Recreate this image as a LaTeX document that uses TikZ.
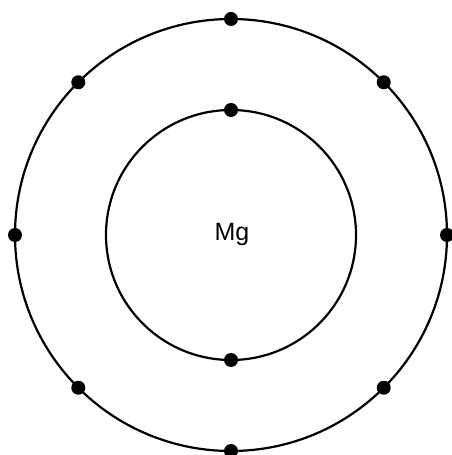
\documentclass[tikz,border=0pt]{standalone}
\usepackage{fontspec}
\setsansfont{Liberation Sans}
\usetikzlibrary{calc}
\tikzset{shell/.style={x=1pt,y=1pt,line width=2.2pt,font=\sffamily\fontsize{25}{30}\selectfont},
  electron/.style={circle,fill=black,inner sep=0pt,minimum size=14pt}}

\begin{document}
\begin{tikzpicture}[shell]
    \useasboundingbox (0,0) rectangle (451,455);
    \def\rin{125}% inner shell radius
    \def\rout{216}% outer shell radius
    \coordinate (c) at (231,220);
    \draw (c) circle (\rin);
    \draw (c) circle (\rout);
    \node (mg) at ($(c)+(1,1)$) {Mg};
    % inner shell: 2 electrons
    \foreach \a in {90,270} \node[electron] (in\a) at ($(c)+(\a:\rin)$) {};
    % outer shell: 8 electrons
    \foreach \a in {0,45,...,315} \node[electron] (out\a) at ($(c)+(\a:\rout)$) {};
  \end{tikzpicture}
\end{document}
